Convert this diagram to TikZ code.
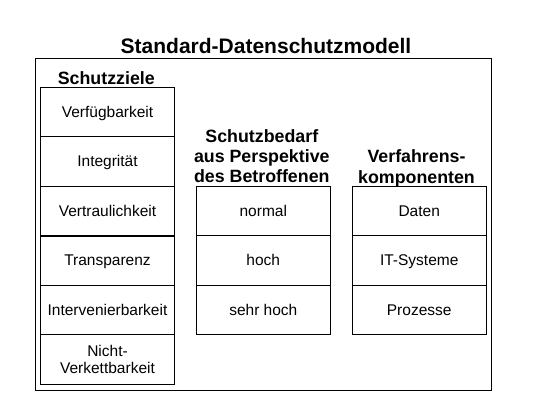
\documentclass[tikz,border=0pt]{standalone}
\usepackage{fontspec}
\setmainfont{Liberation Sans}
\begin{document}
\begin{tikzpicture}[x=1pt,y=-1pt,
  cell/.style={draw=black,line width=0.9pt,minimum width=133.5pt,minimum height=49.5pt,inner sep=0pt,
    align=center,font=\fontsize{15.5}{17.3}\selectfont,text height=11pt,text depth=0pt},
  cellm/.style={draw=black,line width=0.9pt,minimum width=133.5pt,minimum height=49.5pt,inner sep=0pt,
    align=center,font=\fontsize{15.5}{17.3}\selectfont},
  head/.style={align=center,inner sep=0pt,anchor=base,font=\bfseries\fontsize{17.8}{20.3}\selectfont},
  frame/.style={draw=black,line width=0.9pt}]
\useasboundingbox (0,0) rectangle (537,417);
\node[frame,minimum width=456pt,minimum height=331.7pt,inner sep=0pt] (outer) at (263.7,224.15) {};
\node[anchor=base,inner sep=0pt,font=\bfseries\fontsize{21}{24}\selectfont] (title) at (266,54) {Standard-Datenschutzmodell};
% left column
\node[head] (h1) at (106.3,84.3) {Schutzziele};
\node[cell] (l1) at (107.5,111.75) {Verfügbarkeit};
\node[cell] (l2) at (107.5,161.25) {Integrität};
\node[cell] (l3) at (107.5,210.75) {Vertraulichkeit};
\node[cell] (l4) at (107.5,260.25) {Transparenz};
\node[cell] (l5) at (107.5,309.75) {Intervenierbarkeit};
\node[cellm] (l6) at (107.5,359.25) {Nicht-\\Verkettbarkeit};
\draw[line width=1.6pt] (l3.south west) -- (l3.south east);
% middle column
\node[head] (h2) at (261.8,182.7) {Schutzbedarf\\aus Perspektive\\des Betroffenen};
\node[cell] (m1) at (263.3,210.75) {normal};
\node[cell] (m2) at (263.3,260.25) {hoch};
\node[cell] (m3) at (263.3,309.75) {sehr hoch};
% right column
\node[head] (h3) at (416.5,183) {Verfahrens-\\komponenten};
\node[cell] (r1) at (419.2,210.75) {Daten};
\node[cell] (r2) at (419.2,260.25) {IT-Systeme};
\node[cell] (r3) at (419.2,309.75) {Prozesse};
\end{tikzpicture}
\end{document}
